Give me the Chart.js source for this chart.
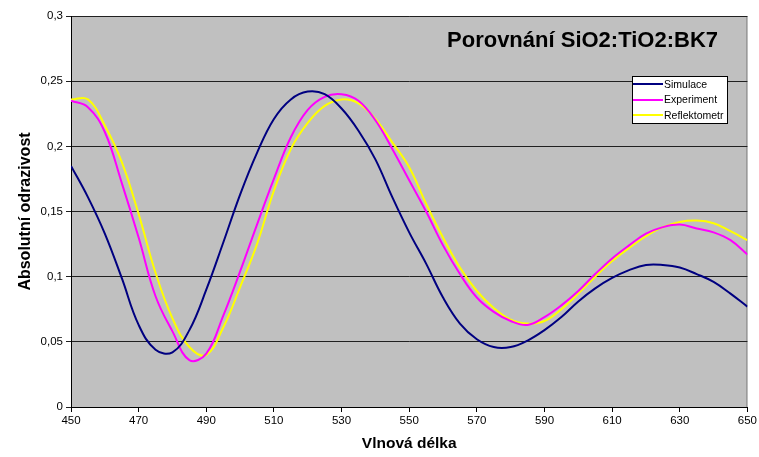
<!DOCTYPE html>
<html>
<head>
<meta charset="utf-8">
<script src="https://cdn.jsdelivr.net/npm/chart.js@4"></script>
<style>
  body { margin: 0; background: #fff; }
  #chart { display: block; }
</style>
</head>
<body>
<canvas id="chart" width="759" height="457"></canvas>
<script>
// wavelength (nm)
const wavelengths = [450, 455, 460, 465, 470, 475, 480, 485, 490, 495,
  500, 505, 510, 515, 520, 525, 530, 535, 540, 545,
  550, 555, 560, 565, 570, 575, 580, 585, 590, 595,
  600, 605, 610, 615, 620, 625, 630, 635, 640, 645, 650];

const simulace = [0.185, 0.161, 0.133, 0.099, 0.063, 0.044, 0.042, 0.059, 0.090, 0.126,
  0.163, 0.195, 0.221, 0.236, 0.242, 0.240, 0.229, 0.212, 0.190, 0.161,
  0.134, 0.110, 0.084, 0.064, 0.052, 0.046, 0.046, 0.051, 0.059, 0.069,
  0.081, 0.091, 0.099, 0.105, 0.109, 0.109, 0.107, 0.102, 0.096, 0.087, 0.077];

const experiment = [0.235, 0.230, 0.211, 0.172, 0.130, 0.085, 0.058, 0.036, 0.041, 0.070,
  0.104, 0.140, 0.175, 0.207, 0.228, 0.238, 0.240, 0.235, 0.220, 0.198,
  0.174, 0.150, 0.124, 0.102, 0.084, 0.073, 0.066, 0.063, 0.069, 0.078,
  0.089, 0.102, 0.114, 0.124, 0.133, 0.138, 0.140, 0.137, 0.134, 0.128, 0.117];

const reflektometr = [0.236, 0.236, 0.216, 0.188, 0.148, 0.103, 0.068, 0.046, 0.040, 0.061,
  0.092, 0.125, 0.166, 0.198, 0.218, 0.231, 0.236, 0.233, 0.221, 0.203,
  0.184, 0.156, 0.130, 0.107, 0.089, 0.076, 0.067, 0.064, 0.066, 0.075,
  0.087, 0.100, 0.112, 0.122, 0.131, 0.138, 0.142, 0.143, 0.141, 0.135, 0.128];

const seriesNames = ["Simulace", "Experiment", "Reflektometr"];
const seriesColors = ["#000080", "#FF00FF", "#FFFF00"];

function toPoints(ys) {
  return wavelengths.map((x, i) => ({ x: x, y: ys[i] }));
}

// gray plot area with light border, like the old excel chart
const plotBackground = {
  id: "plotBackground",
  beforeDraw(chart) {
    const a = chart.chartArea;
    const ctx = chart.ctx;
    ctx.save();
    ctx.fillStyle = "#C0C0C0";
    ctx.fillRect(a.left, a.top, a.right - a.left, a.bottom - a.top);
    ctx.strokeStyle = "#808080";
    ctx.lineWidth = 1;
    ctx.strokeRect(a.left + 0.5, a.top + 0.5, a.right - a.left - 1, a.bottom - a.top);
    ctx.restore();
  }
};

// title and legend sit inside the plot area
const insideText = {
  id: "insideText",
  afterDraw(chart) {
    const ctx = chart.ctx;
    ctx.save();
    ctx.fillStyle = "#000";
    ctx.font = "bold 22px 'Liberation Sans', Arial, sans-serif";
    ctx.textAlign = "right";
    ctx.textBaseline = "middle";
    ctx.fillText("Porovnání SiO2:TiO2:BK7", 718, 41);

    // legend box
    const bx = 632, by = 76, bw = 95, bh = 47;
    ctx.fillStyle = "#fff";
    ctx.fillRect(bx, by, bw, bh);
    ctx.strokeStyle = "#000";
    ctx.lineWidth = 1;
    ctx.strokeRect(bx + 0.5, by + 0.5, bw, bh);
    ctx.font = "10.5px 'Liberation Sans', Arial, sans-serif";
    ctx.textAlign = "left";
    seriesNames.forEach((name, i) => {
      const y = 84 + i * 15.5;
      ctx.strokeStyle = seriesColors[i];
      ctx.lineWidth = 2;
      ctx.beginPath();
      ctx.moveTo(bx + 1, Math.round(y));
      ctx.lineTo(bx + 31, Math.round(y));
      ctx.stroke();
      ctx.fillStyle = "#000";
      ctx.fillText(name, bx + 32, y + 1);
    });
    ctx.restore();
  }
};

const tickFont = { family: "'Liberation Sans', Arial, sans-serif", size: 11.5 };

new Chart(document.getElementById("chart"), {
  type: "line",
  data: {
    datasets: seriesNames.map((name, i) => ({
      label: name,
      data: toPoints([simulace, experiment, reflektometr][i]),
      borderColor: seriesColors[i],
      borderWidth: 2,
      pointRadius: 0,
      tension: 0.4,
      fill: false
    }))
  },
  options: {
    responsive: false,
    animation: false,
    layout: { padding: { top: 16, right: 10, left: 0, bottom: 0 } },
    plugins: {
      legend: { display: false },
      tooltip: { enabled: false }
    },
    scales: {
      x: {
        type: "linear",
        min: 450,
        max: 650,
        ticks: { stepSize: 20, color: "#000", font: tickFont, padding: 2, maxRotation: 0 },
        grid: { display: true, drawOnChartArea: false, color: "#000", tickLength: 5 },
        border: { color: "#000", width: 1 },
        title: {
          display: true, text: "Vlnová délka", color: "#000",
          font: { family: "'Liberation Sans', Arial, sans-serif", size: 15.5, weight: "bold" },
          padding: { top: 6 }
        },
        afterFit(scale) { scale.height = 50; }
      },
      y: {
        min: 0,
        max: 0.3,
        ticks: {
          stepSize: 0.05,
          color: "#000",
          font: tickFont,
          padding: 3,
          callback: v => String(Math.round(v * 100) / 100).replace(".", ",")
        },
        grid: { color: "#202020", tickLength: 5 },
        border: { color: "#000", width: 1 },
        title: {
          display: true, text: "Absolutní odrazivost", color: "#000",
          font: { family: "'Liberation Sans', Arial, sans-serif", size: 16, weight: "bold" },
          padding: { top: 16, bottom: 4 }
        },
        afterFit(scale) { scale.width = 71; }
      }
    }
  },
  plugins: [plotBackground, insideText]
});
</script>
</body>
</html>
